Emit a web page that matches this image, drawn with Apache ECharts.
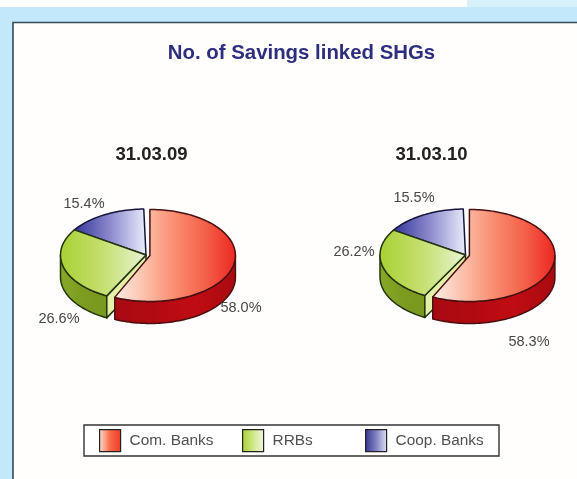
<!DOCTYPE html>
<html>
<head>
<meta charset="utf-8">
<style>html,body{margin:0;padding:0;background:#fff}#chart{width:577px;height:479px}</style>
<script src="https://cdn.jsdelivr.net/npm/echarts@6/dist/echarts.min.js"></script>
</head>
<body>
<div id="chart"></div>
<script>
// Savings-linked SHGs by agency, share of total at each date
const dates = ['31.03.09', '31.03.10'];
const comBanks = [58.0, 58.3];
const rrbs = [26.6, 26.2];
const coopBanks = [15.4, 15.5];
const chartTitle = 'No. of Savings linked SHGs';

// Layout of the two tilted pies
const pieCentres = [[146, 255], [465.5, 255]];
const radiusX = 85.5, radiusY = 46, wallDepth = 22, explode = 4;
const startAngle = -1.5 * Math.PI / 180;
const trailingTrim = 3 * Math.PI / 180;
const dateLabelX = [151.5, 431.5], dateLabelY = 145;
// Label centres, one [x, y] per pie
const labelSpots = {
  'Com. Banks': [[241, 308], [529, 342]],
  'RRBs': [[59, 319], [354, 252]],
  'Coop. Banks': [[84, 204], [414, 198]]
};
const legendLeft = [99, 242, 365];

const grad = (stops) => ({
  type: 'linear', x: 0, y: 0, x2: 1, y2: 0,
  colorStops: stops.map((c, i) => ({ offset: i / (stops.length - 1), color: c }))
});

const cats = [
  { name: 'Com. Banks', values: comBanks, z: 3,
    top: grad(['#fdeee6', '#fcc0aa', '#f98c70', '#f4604a', '#ec2620']),
    wall: grad(['#a80a12', '#b30a12', '#c00c14', '#a80a10']),
    cut: '#c8343a', edge: '#4a1010', swatch: grad(['#fde0d4', '#f86a48', '#ee3a28']) },
  { name: 'RRBs', values: rrbs, z: 2,
    top: grad(['#a8d034', '#c4e070', '#e9f4d4']),
    wall: grad(['#86a828', '#7c9c20', '#78981e']),
    cut: '#e4f0a8', edge: '#24340c', swatch: grad(['#a8d034', '#d0e888', '#f0f8e0']) },
  { name: 'Coop. Banks', values: coopBanks, z: 1,
    top: grad(['#34349a', '#8a8acc', '#eceefc']),
    wall: grad(['#30308a', '#30308a']),
    cut: '#e0e0f4', edge: '#14143c', swatch: grad(['#34348e', '#8080c4', '#e4e4f6']) }
];

// Clockwise sweep of each slice, measured from twelve o'clock
function sweep(catIndex, pie) {
  let before = 0, total = 0;
  cats.forEach((c, i) => { total += c.values[pie]; if (i < catIndex) before += c.values[pie]; });
  const k = Math.PI * 2 / total;
  return [startAngle + before * k, startAngle + (before + cats[catIndex].values[pie]) * k];
}

function slice(catIndex) {
  return function (params, api) {
    const pie = api.value(0);
    const full = sweep(catIndex, pie);
    const isExploded = catIndex === 0;
    const a0 = isExploded ? full[0] + 1.5 * Math.PI / 180 : full[0];
    const a1 = isExploded ? full[1] - trailingTrim : full[1];
    const cat = cats[catIndex];
    const mid = (a0 + a1) / 2;
    const off = isExploded ? explode : 0;
    const cx = pieCentres[pie][0] + off * Math.sin(mid);
    const cy = pieCentres[pie][1] - off * Math.cos(mid) * radiusY / radiusX;
    const pt = (a, drop) => [cx + radiusX * Math.sin(a), cy - radiusY * Math.cos(a) + (drop || 0)];
    const arc = (from, to, drop) => {
      const steps = Math.max(2, Math.ceil(Math.abs(to - from) / 0.03));
      const out = [];
      for (let i = 0; i <= steps; i++) out.push(pt(from + (to - from) * i / steps, drop));
      return out;
    };
    const children = [];
    const lineStyle = { stroke: cat.edge, lineWidth: 1.5, lineJoin: 'round' };

    // Outer wall: only the part of the rim facing the viewer
    const w0 = Math.max(a0, Math.PI / 2), w1 = Math.min(a1, Math.PI * 1.5);
    if (w1 > w0) {
      children.push({
        type: 'polygon',
        shape: { points: arc(w0, w1, 0).concat(arc(w1, w0, wallDepth)) },
        style: Object.assign({ fill: cat.wall }, lineStyle)
      });
    }
    // Cut face on the leading edge, seen through the gap beside the exploded slice
    if (catIndex === 1) {
      const outer = pt(a0, 0), low = pt(a0, wallDepth);
      children.push({
        type: 'polygon',
        shape: { points: [[cx, cy], outer, low, [cx, cy + wallDepth]] },
        style: Object.assign({ fill: cat.cut }, lineStyle)
      });
    }
    // Top face
    children.push({
      type: 'polygon',
      shape: { points: [[cx, cy]].concat(arc(a0, a1, 0)) },
      style: Object.assign({ fill: cat.top }, lineStyle)
    });
    // Percentage label
    const spot = labelSpots[cat.name][pie];
    children.push({
      type: 'text', z2: 50,
      style: {
        x: spot[0], y: spot[1], text: api.value(1).toFixed(1) + '%',
        fill: '#484848', font: '14.5px "Liberation Sans"', align: 'center', verticalAlign: 'middle'
      }
    });
    return { type: 'group', children };
  };
}

const option = {
  animation: false,
  backgroundColor: '#c3e8fb',
  graphic: [
    { type: 'rect', z: -10, silent: true, shape: { x: 0, y: 0, width: 577, height: 7 }, style: { fill: '#fff' } },
    { type: 'rect', z: -10, silent: true, shape: { x: 467, y: 0, width: 110, height: 7 }, style: { fill: '#d6f1fa' } },
    { type: 'rect', z: -9, silent: true, shape: { x: 13, y: 22.5, width: 570, height: 462 },
      style: { fill: '#fffefc', stroke: '#33495c', lineWidth: 1.6 } },
    { type: 'rect', z: -1, silent: true, shape: { x: 84, y: 425, width: 415, height: 31 },
      style: { fill: '#fff', stroke: '#333', lineWidth: 1.4 } }
  ],
  title: [
    { text: chartTitle, left: 301.5, top: 43, padding: 0, textAlign: 'center',
      textStyle: { color: '#2e2e7e', fontSize: 20.4, fontWeight: 'bold', fontFamily: 'Liberation Sans' } }
  ].concat(dates.map((d, i) => ({
    text: d, left: dateLabelX[i], top: dateLabelY, padding: 0, textAlign: 'center',
    textStyle: { color: '#222', fontSize: 18.5, fontWeight: 'bold', fontFamily: 'Liberation Sans' }
  }))),
  legend: cats.map((c, i) => ({
    left: legendLeft[i], top: 429, padding: 0, itemWidth: 21, itemHeight: 22, icon: 'rect',
    selectedMode: false,
    itemStyle: { borderColor: '#222', borderWidth: 1.2 },
    textStyle: { color: '#505050', fontSize: 15.4, fontFamily: 'Liberation Sans', padding: [0, 0, 0, 4] },
    data: [{ name: c.name, itemStyle: { color: c.swatch, borderColor: '#222', borderWidth: 1.2 } }]
  })),
  series: cats.map((c, i) => ({
    type: 'custom',
    name: c.name,
    coordinateSystem: 'none',
    z: c.z + 1,
    itemStyle: { color: c.swatch },
    renderItem: slice(i),
    data: c.values.map((v, pie) => [pie, v])
  }))
};

const chart = echarts.init(document.getElementById('chart'), null, { renderer: 'canvas' });
chart.setOption(option);
</script>
</body>
</html>
